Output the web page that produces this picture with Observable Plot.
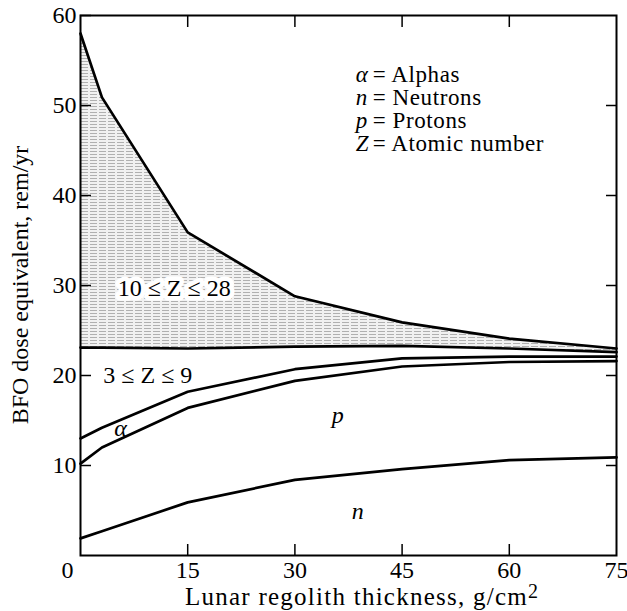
<!DOCTYPE html>
<html>
<head>
<meta charset="utf-8">
<script src="https://cdn.jsdelivr.net/npm/d3@7"></script>
<script src="https://cdn.jsdelivr.net/npm/@observablehq/plot@0.6"></script>
<style>
  html, body { margin: 0; padding: 0; background: white; }
  .legend-names text, .legend-names tspan { letter-spacing: 0.6px; }
</style>
</head>
<body>
<div id="chart"></div>
<script>
// Data (cumulative curve heights, rem/yr)
const thickness = [0, 3, 15, 30, 45, 60, 75];            // g/cm^2
const heavyTop   = [58.0, 50.9, 35.9, 28.8, 25.9, 24.1, 23.0]; // top of 10 ≤ Z ≤ 28 band
const mediumTop  = [23.1, 23.1, 23.0, 23.2, 23.3, 23.0, 22.6]; // top of 3 ≤ Z ≤ 9 band
const alphaTop   = [13.0, 14.2, 18.2, 20.7, 21.9, 22.1, 22.1]; // top of alpha band
const protonTop  = [10.2, 12.0, 16.4, 19.4, 21.0, 21.5, 21.6]; // top of proton band
const neutronTop = [1.9, 2.7, 5.9, 8.4, 9.6, 10.6, 10.9];      // top of neutron band

const xTicks = [15, 30, 45, 60, 75];
const yTicks = [10, 20, 30, 40, 50, 60];
const legendSymbols = ["α", "n", "p", "Z"];
const legendNames = ["Alphas", "Neutrons", "Protons", "Atomic number"];

const rows = thickness.map((x, i) => ({
  x, heavy: heavyTop[i], medium: mediumTop[i], alpha: alphaTop[i],
  proton: protonTop[i], neutron: neutronTop[i]
}));
const seriesKeys = ["heavy", "medium", "alpha", "proton", "neutron"];
const long = seriesKeys.flatMap(k => rows.map(r => ({x: r.x, y: r[k], series: k})));

const font = "'Liberation Serif', 'Times New Roman', serif";

const svg = Plot.plot({
  width: 627,
  height: 611,
  marginLeft: 80,
  marginRight: 11,
  marginTop: 15,
  marginBottom: 56,
  style: {fontFamily: font, fontSize: "24px", background: "white", color: "black"},
  x: {domain: [0, 75]},
  y: {domain: [0, 60]},
  marks: [
    Plot.areaY(rows, {x: "x", y1: "medium", y2: "heavy", fill: "url(#hatch)"}),
    Plot.line(long, {x: "x", y: "y", z: "series", stroke: "black", strokeWidth: 2.7}),
    // inner labels
    Plot.text(["10 ≤ Z ≤ 28"], {x: 5.2, y: 29.7, textAnchor: "start", fontSize: 24,
      stroke: "white", strokeWidth: 9, fill: "black"}),
    Plot.text(["3 ≤ Z ≤ 9"], {x: 3.2, y: 20.0, textAnchor: "start", fontSize: 24,
      stroke: "white", strokeWidth: 4, fill: "black"}),
    Plot.text(["α"], {x: 5.6, y: 14.1, fontSize: 24, fontStyle: "italic"}),
    Plot.text(["p"], {x: 36, y: 15.6, fontSize: 24, fontStyle: "italic"}),
    Plot.text(["n"], {x: 38.8, y: 4.9, fontSize: 24, fontStyle: "italic"}),
    // legend
    Plot.text([legendSymbols.join("\n")], {x: 38.5, y: 54.4, textAnchor: "start",
      lineAnchor: "top", lineHeight: 1.0, fontSize: 23, fontStyle: "italic"}),
    Plot.text([legendNames.map(n => "= " + n).join("\n")], {x: 38.5, y: 54.4, dx: 17,
      textAnchor: "start", lineAnchor: "top", lineHeight: 1.0, fontSize: 23,
      className: "legend-names"}),
    // axes
    Plot.axisY({anchor: "left", ticks: yTicks, tickSize: -11, tickPadding: 15, label: null, strokeWidth: 1.5}),
    Plot.axisY({anchor: "right", ticks: yTicks.slice(0, 5), tickSize: -11, tickFormat: () => "", label: null, strokeWidth: 1.5}),
    Plot.axisX({anchor: "bottom", ticks: xTicks.slice(0, 4), tickSize: -11, tickPadding: 16, tickFormat: () => "", label: null, strokeWidth: 1.5}),
    Plot.axisX({anchor: "bottom", ticks: xTicks, tickSize: 0, tickPadding: 5, label: null}),
    Plot.axisX({anchor: "bottom", ticks: [0], tickSize: 0, tickPadding: 5, dx: -13, label: null}),
    Plot.axisX({anchor: "top", ticks: xTicks.slice(0, 4), tickSize: -11, tickFormat: () => "", label: null, strokeWidth: 1.5}),
    Plot.frame({stroke: "black", strokeWidth: 2})
  ]
});

// hatch pattern for the heavy-ion band
const sel = d3.select(svg);
const defs = sel.insert("defs", ":first-child");
const pat = defs.append("pattern").attr("id", "hatch").attr("patternUnits", "userSpaceOnUse")
  .attr("width", 9).attr("height", 3);
pat.append("rect").attr("width", 9).attr("height", 3).attr("fill", "#f1f1f1");
pat.append("line").attr("x1", 0).attr("x2", 7).attr("y1", 1.5).attr("y2", 1.5)
  .attr("stroke", "#a8a8a8").attr("stroke-width", 0.9);

// axis titles
const xl = sel.append("text").attr("x", 185).attr("y", 605).attr("text-anchor", "start")
  .attr("font-family", font).attr("font-size", 25).attr("letter-spacing", 1.25).attr("fill", "black");
xl.append("tspan").text("Lunar regolith thickness, g/cm");
xl.append("tspan").attr("dy", -7).attr("font-size", 20).text("2");

sel.append("text").attr("transform", "translate(28,285) rotate(-90)")
  .attr("text-anchor", "middle").attr("font-family", font).attr("font-size", 24)
  .attr("fill", "black").text("BFO dose equivalent, rem/yr");

document.getElementById("chart").appendChild(svg);
</script>
</body>
</html>
